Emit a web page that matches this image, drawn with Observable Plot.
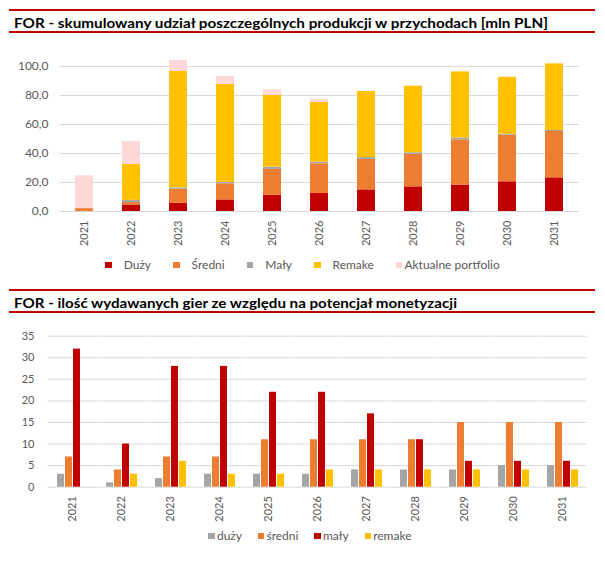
<!DOCTYPE html>
<html><head><meta charset="utf-8">
<script src="https://cdn.jsdelivr.net/npm/d3@7"></script>
<script src="https://cdn.jsdelivr.net/npm/@observablehq/plot@0.6"></script>
<style>
body{margin:0;background:#fff;}
#page{position:relative;width:605px;height:562px;overflow:hidden;font-family:Lato,"Noto Sans",sans-serif;background:#fff;}
.title{position:absolute;left:13.5px;font-weight:bold;font-size:14px;line-height:14px;white-space:nowrap;transform-origin:0 0;color:#000;}
.hline{position:absolute;left:8.5px;width:586px;height:2px;background:#C00000;}
.chart{position:absolute;left:0;width:605px;}
.legend{position:absolute;left:0;width:605px;display:flex;justify-content:center;align-items:center;font-size:12px;line-height:14px;color:#595959;white-space:nowrap;}
.legend .sw{display:inline-block;width:6.5px;height:6.5px;}
.legend .it{display:flex;align-items:center;}
[aria-label^="y-axis"] text{font-size:12px;}
#bot [aria-label^="y-axis"] text{font-size:11px;}
</style>
</head><body>
<div id="page">
  <div class="hline" style="top:9px"></div>
  <div class="title" id="t1" style="top:15.6px">FOR - skumulowany udział poszczególnych produkcji w przychodach [mln PLN]</div>
  <div class="hline" style="top:30.5px"></div>
  <div class="chart" id="top" style="top:40px"></div>
  <div class="legend" id="leg1" style="top:258px"></div>

  <div class="hline" style="top:289px"></div>
  <div class="title" id="t2" style="top:295.6px">FOR - ilość wydawanych gier ze względu na potencjał monetyzacji</div>
  <div class="hline" style="top:310.5px"></div>
  <div class="chart" id="bot" style="top:320px"></div>
  <div class="legend" id="leg2" style="top:529px;padding-left:15px;box-sizing:border-box"></div>
</div>
<script>
// ---------- data ----------
const years = ["2021","2022","2023","2024","2025","2026","2027","2028","2029","2030","2031"];

// top chart: revenue by production type [mln PLN]
const seriesTop = ["Duży","Średni","Mały","Remake","Aktualne portfolio"];
const colorsTop = ["#C00000","#ED7D31","#A5A5A5","#FFC000","#FFD7D7"];
const duzyRev     = [0.0, 4.5, 5.7, 8.0, 11.3, 12.4, 14.9, 17.0, 18.2, 20.5, 23.2];
const sredniRev   = [2.0, 1.7, 9.7, 11.1, 17.7, 20.5, 21.0, 22.3, 31.2, 32.1, 32.0];
const malyRev     = [0.0, 1.5, 0.9, 0.9, 1.6, 1.1, 1.3, 1.2, 1.2, 0.7, 0.7];
const remakeRev   = [0.0, 24.7, 80.5, 67.6, 49.4, 41.4, 45.6, 45.9, 45.7, 39.3, 45.9];
const aktualneRev = [22.6, 15.9, 7.3, 5.5, 3.9, 2.1, 0.0, 0.0, 0.0, 0.0, 0.0];
const yTicksTop = [0, 20, 40, 60, 80, 100];

// bottom chart: number of released games
const seriesBot = ["duży","średni","mały","remake"];
const colorsBot = ["#A5A5A5","#ED7D31","#C00000","#FFC000"];
const duzyCnt   = [3, 1, 2, 3, 3, 3, 4, 4, 4, 5, 5];
const sredniCnt = [7, 4, 7, 7, 11, 11, 11, 11, 15, 15, 15];
const malyCnt   = [32, 10, 28, 28, 22, 22, 17, 11, 6, 6, 6];
const remakeCnt = [0, 3, 6, 3, 3, 4, 4, 4, 4, 4, 4];
const yTicksBot = [0, 5, 10, 15, 20, 25, 30, 35];

// ---------- tables ----------
const topValues = [duzyRev, sredniRev, malyRev, remakeRev, aktualneRev];
const topData = [];
seriesTop.forEach((s, i) => years.forEach((y, j) => topData.push({year: y, series: s, value: topValues[i][j]})));
const botValues = [duzyCnt, sredniCnt, malyCnt, remakeCnt];
const botData = [];
years.forEach((y, j) => seriesBot.forEach((s, i) => botData.push({year: y, series: s, value: botValues[i][j]})));

const fmt1 = d => d.toFixed(1).replace(".", ",");
const baseStyle = {fontFamily: "Lato, 'Noto Sans', sans-serif", fontSize: "11px", color: "#595959", background: "transparent", overflow: "visible"};

const topChart = Plot.plot({
  width: 605, height: 215,
  marginLeft: 60, marginRight: 26.4, marginTop: 11.5, marginBottom: 44,
  style: baseStyle,
  x: {domain: years, paddingInner: 0.61, paddingOuter: 0.305, tickSize: 0, tickPadding: 9, tickRotate: -90, label: null},
  y: {domain: [0, 110], ticks: yTicksTop, tickFormat: fmt1, tickSize: 0, tickPadding: 12, label: null},
  color: {domain: seriesTop, range: colorsTop},
  marks: [
    Plot.ruleY(yTicksTop, {stroke: "#D9D9D9", strokeWidth: 1}),
    Plot.barY(topData, {x: "year", y: "value", fill: "series", order: seriesTop})
  ]
});
document.getElementById("top").appendChild(topChart);

const botChart = Plot.plot({
  width: 605, height: 215,
  marginLeft: 47, marginRight: 18, marginTop: 15.7, marginBottom: 48.3,
  style: baseStyle,
  facet: {data: botData, x: "year", label: null},
  fx: {domain: years, paddingInner: 0.3, paddingOuter: 0.15, tickSize: 0, tickPadding: 9, tickRotate: -90, label: null, axis: "bottom"},
  x: {domain: seriesBot, paddingInner: 0.15, paddingOuter: 0.075, axis: null},
  y: {domain: [0, 35], ticks: yTicksBot, tickSize: 0, tickPadding: 21, label: null},
  color: {domain: seriesBot, range: colorsBot},
  marks: [
    Plot.ruleY(yTicksBot, {stroke: "#D9D9D9", strokeWidth: 1, insetLeft: -7.37, insetRight: -7.37}),
    Plot.barY(botData, {x: "series", y: "value", fill: "series"})
  ]
});
document.getElementById("bot").appendChild(botChart);

// ---------- legends ----------
function legend(el, names, colors, swGap, lastGap, itemGap) {
  names.forEach((n, i) => {
    const it = document.createElement("span");
    it.className = "it";
    if (i > 0) it.style.marginLeft = itemGap + "px";
    const sw = document.createElement("span");
    sw.className = "sw";
    sw.style.background = colors[i];
    sw.style.marginRight = (i === names.length - 1 && lastGap != null ? lastGap : swGap) + "px";
    const tx = document.createElement("span");
    tx.textContent = n;
    it.appendChild(sw); it.appendChild(tx);
    el.appendChild(it);
  });
}
legend(document.getElementById("leg1"), seriesTop, colorsTop, 12, 2, 22);
legend(document.getElementById("leg2"), seriesBot, colorsBot, 2, null, 16);

// ---------- fit title widths ----------
function fit(id, target) {
  const el = document.getElementById(id);
  const w = el.getBoundingClientRect().width;
  if (w > 0) el.style.transform = `scaleX(${target / w})`;
}
fit("t1", 534);
fit("t2", 443);
</script>
</body></html>
